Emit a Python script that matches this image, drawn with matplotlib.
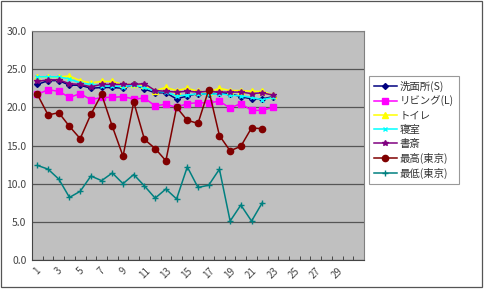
import matplotlib
matplotlib.use('Agg')
import matplotlib.pyplot as plt
import numpy as np
from matplotlib.patches import Rectangle

plt.rcParams['font.family'] = ['Noto Sans CJK JP', 'DejaVu Sans']

# 日付 (1..31)
days = np.arange(1, 32)
tick_labels = [str(d) for d in range(1, 30, 2)]

# 室温データ (23日分)
senmenjo = [23.0, 23.5, 23.5, 22.9, 22.9, 22.5, 22.6, 22.6, 22.5, 23.0, 22.4, 21.9,
            21.9, 21.1, 21.5, 21.8, 21.7, 21.9, 21.8, 21.4, 21.1, 21.1, 21.4]
living = [21.7, 22.3, 22.1, 21.3, 21.8, 21.0, 21.3, 21.3, 21.4, 21.1, 21.2, 20.2,
          20.4, 20.0, 20.5, 20.6, 20.6, 20.8, 19.9, 20.5, 19.6, 19.6, 20.0]
toilet = [24.0, 24.0, 24.0, 24.1, 23.5, 23.2, 23.4, 23.4, 23.0, 23.0, 22.9, 22.2,
          22.6, 22.2, 22.5, 22.1, 22.0, 22.5, 22.2, 22.2, 22.1, 22.1, 21.6]
shinshitsu = [24.0, 24.0, 24.0, 23.7, 23.2, 23.0, 22.8, 22.8, 22.7, 22.9, 22.6, 22.1,
              22.0, 21.5, 21.6, 21.8, 21.7, 21.8, 21.6, 21.5, 21.3, 21.0, 21.3]
shosai = [23.4, 23.6, 23.6, 23.1, 23.0, 22.7, 23.0, 23.0, 23.0, 23.0, 23.1, 22.2,
          22.1, 22.0, 22.1, 22.0, 22.1, 22.0, 22.0, 22.0, 21.8, 21.9, 21.6]

# 東京の気温 (22日分)
saikou = [21.7, 19.0, 19.3, 17.5, 15.9, 19.1, 21.7, 17.5, 13.6, 20.7, 15.8, 14.6,
          13.0, 20.0, 18.3, 17.9, 22.3, 16.3, 14.3, 14.9, 17.3, 17.2]
saitei = [12.4, 11.9, 10.6, 8.2, 9.0, 11.0, 10.4, 11.4, 10.0, 11.2, 9.7, 8.1,
          9.3, 8.0, 12.2, 9.5, 9.8, 11.9, 5.1, 7.2, 5.1, 7.5]

fig = plt.figure(figsize=(4.84, 2.91), dpi=100)
ax = fig.add_axes([32 / 484, 31 / 291, 332 / 484, 229 / 291])
ax.set_facecolor('#C0C0C0')

series = [
    ('洗面所(S)', senmenjo, '#000080', 'D', 3),
    ('リビング(L)', living, '#FF00FF', 's', 4.2),
    ('トイレ', toilet, '#FFFF00', '^', 4.5),
    ('寝室', shinshitsu, '#00FFFF', 'x', 3.5),
    ('書斎', shosai, '#800080', '*', 4),
    ('最高(東京)', saikou, '#800000', 'o', 4.5),
    ('最低(東京)', saitei, '#008080', '+', 4.5),
]
for name, vals, col, mk, ms in series:
    x = days[:len(vals)]
    ax.plot(x, vals, color=col, marker=mk, markersize=ms, linewidth=1.1,
            markeredgewidth=1, label=name)

ax.set_xlim(0.5, 31.5)
ax.set_ylim(0, 30)
ax.set_yticks(np.arange(0, 31, 5))
ax.set_yticklabels(['%.1f' % v for v in np.arange(0, 31, 5)], fontsize=7.5, color='#444444')
ax.yaxis.grid(True, color='#555555', linewidth=0.9)
ax.set_axisbelow(True)

ax.set_xticks(np.arange(1, 30, 2))
ax.set_xticklabels(tick_labels, rotation=45, fontsize=7, color='#444444')
ax.set_xticks(np.arange(0.5, 32, 1), minor=True)
ax.tick_params(axis='x', which='major', length=0, pad=4)
ax.tick_params(axis='x', which='minor', length=3, direction='in', color='#333333')
ax.tick_params(axis='y', length=0, pad=4)

for s in ['top', 'right']:
    ax.spines[s].set_color('#808080')
ax.spines['left'].set_color('#444444')
ax.spines['bottom'].set_color('#444444')

leg = ax.legend(loc='upper left', bbox_to_anchor=(369 / 484, 1 - 76 / 291),
                bbox_transform=fig.transFigure, borderaxespad=0, fontsize=7.5,
                frameon=True, fancybox=False, edgecolor='#808080', borderpad=0.45,
                labelspacing=0.38, handlelength=2.2, handletextpad=0.3)
leg.get_frame().set_linewidth(0.8)
for t in leg.get_texts():
    t.set_color('#333333')

fig.patches.append(Rectangle((1 / 484, 4 / 291), 481 / 484, 286 / 291, fill=False,
                             edgecolor='#555555', linewidth=0.9,
                             transform=fig.transFigure))

fig.savefig('out.png', dpi=100)
plt.close()
